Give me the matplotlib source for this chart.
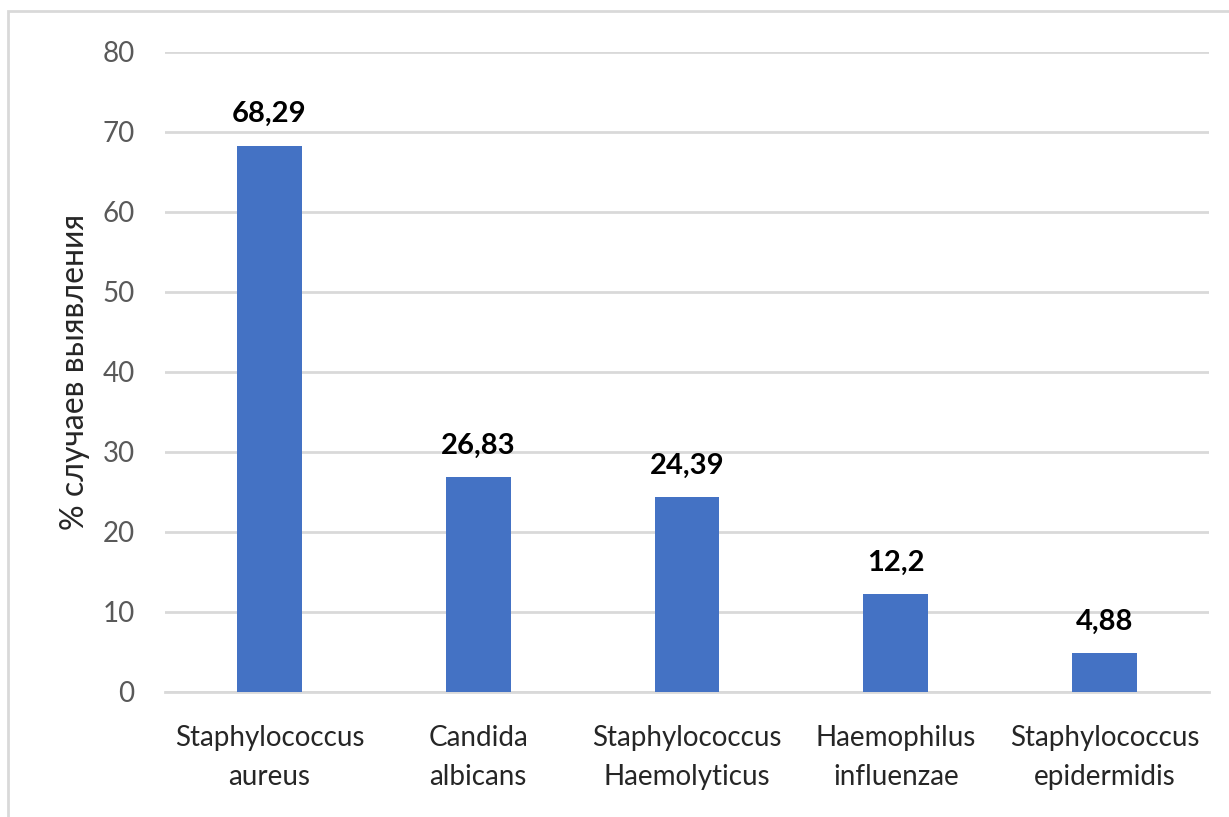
import matplotlib.pyplot as plt
from matplotlib.patches import Rectangle

categories = ['Staphylococcus\naureus', 'Candida\nalbicans', 'Staphylococcus\nHaemolyticus',
              'Haemophilus\ninfluenzae', 'Staphylococcus\nepidermidis']
values = [68.29, 26.83, 24.39, 12.2, 4.88]
value_labels = ['68,29', '26,83', '24,39', '12,2', '4,88']
yticks = [0, 10, 20, 30, 40, 50, 60, 70, 80]

plt.rcParams['font.family'] = ['Lato', 'DejaVu Sans']

fig = plt.figure(figsize=(12.29, 8.17), dpi=100)
ax = fig.add_axes([0.1343, 0.153, 0.8494, 0.7834])

# outer chart border (only left and top visible in the crop)
fig.patches.append(Rectangle((8 / 1229, -0.1), 1.2, 1 - 11 / 817 + 0.1,
                             transform=fig.transFigure, fill=False,
                             edgecolor='#D9D9D9', linewidth=2))

x = range(len(values))
ax.bar(x, values, width=0.31, color='#4472C4', zorder=3)
for xi, v, lab in zip(x, values, value_labels):
    ax.text(xi, v + 2.3, lab, ha='center', va='bottom', fontsize=21,
            fontweight='bold', color='black')

ax.set_xlim(-0.5, len(values) - 0.5)
ax.set_ylim(0, 80)
ax.set_yticks(yticks)
ax.set_xticks(list(x))
ax.set_xticklabels(categories, fontsize=20, color='#262626', linespacing=1.6)
ax.tick_params(axis='y', labelsize=20, labelcolor='#595959', length=0, pad=22)
ax.tick_params(axis='x', length=0, pad=24)
ax.grid(axis='y', color='#D9D9D9', linewidth=2, zorder=0)
for s in ['top', 'right', 'left']:
    ax.spines[s].set_visible(False)
ax.spines['bottom'].set_color('#D9D9D9')
ax.spines['bottom'].set_linewidth(2)
ax.set_ylabel('% случаев выявления', fontsize=23, color='#262626', labelpad=9)

fig.savefig('out.png', dpi=100)
